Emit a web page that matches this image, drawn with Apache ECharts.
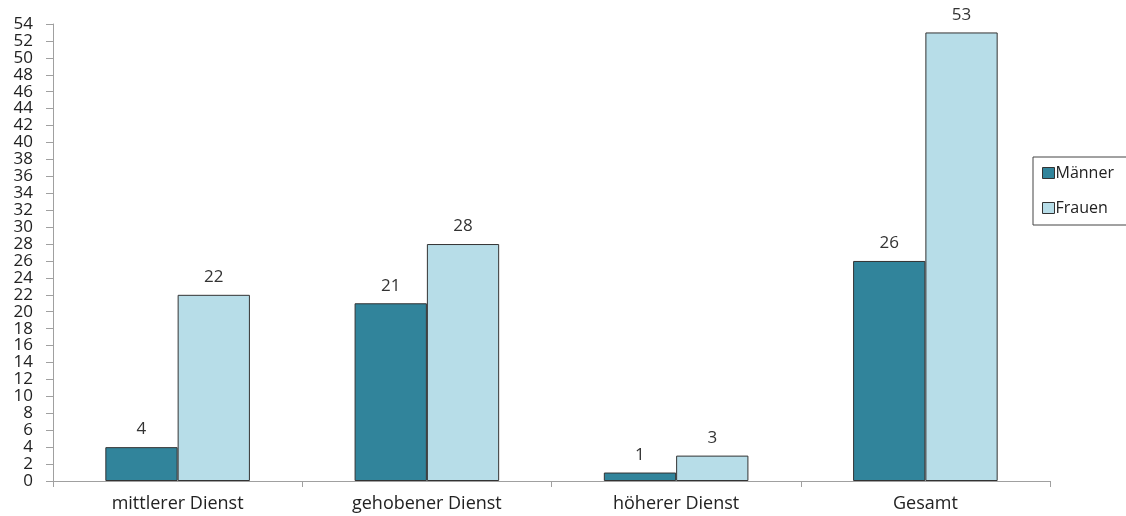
<!DOCTYPE html>
<html>
<head>
<meta charset="utf-8">
<script src="https://cdn.jsdelivr.net/npm/echarts@6/dist/echarts.min.js"></script>
<style>
  html, body { margin: 0; padding: 0; background: #fff; }
  #chart { width: 1126px; height: 516px; }
</style>
</head>
<body>
<div id="chart"></div>
<script>
// Beschäftigte nach Laufbahngruppe
const categories = ['mittlerer Dienst', 'gehobener Dienst', 'höherer Dienst', 'Gesamt'];
const maenner = [4, 21, 1, 26];
const frauen = [22, 28, 3, 53];

const FONT = '"Open Sans", "DejaVu Sans", sans-serif';
const chart = echarts.init(document.getElementById('chart'));

const labelStyle = {
  show: true,
  position: 'top',
  distance: 9,
  color: '#333',
  fontFamily: FONT,
  fontSize: 17
};

chart.setOption({
  animation: false,
  textStyle: { fontFamily: FONT },
  grid: { left: 53, right: 76, top: 24, bottom: 35 },
  legend: {
    orient: 'vertical',
    left: 1033,
    top: 157,
    padding: [8, 30, 9, 9],
    itemGap: 19,
    itemWidth: 12,
    itemHeight: 11,
    icon: 'rect',
    borderColor: '#444',
    borderWidth: 1,
    itemStyle: { borderColor: '#333', borderWidth: 1 },
    textStyle: { fontFamily: FONT, fontSize: 16, color: '#222', padding: [0, 0, 0, -4] },
    data: ['Männer', 'Frauen']
  },
  xAxis: {
    type: 'category',
    data: categories,
    axisLine: { lineStyle: { color: '#a0a0a0', width: 1 } },
    axisTick: { show: true, length: 6, lineStyle: { color: '#a0a0a0' } },
    axisLabel: { color: '#222', fontSize: 18, fontFamily: FONT, margin: 14 }
  },
  yAxis: {
    type: 'value',
    min: 0,
    max: 54,
    interval: 2,
    splitLine: { show: false },
    axisLine: { show: true, lineStyle: { color: '#a0a0a0', width: 1 } },
    axisTick: { show: true, length: 7, lineStyle: { color: '#a0a0a0' } },
    axisLabel: { color: '#222', fontSize: 17, fontFamily: FONT, margin: 20 }
  },
  series: [
    {
      name: 'Männer',
      type: 'bar',
      data: maenner,
      barGap: '0%',
      barCategoryGap: '42%',
      itemStyle: { color: '#31849B', borderColor: '#333', borderWidth: 1 },
      label: labelStyle
    },
    {
      name: 'Frauen',
      type: 'bar',
      data: frauen,
      itemStyle: { color: '#B7DDE8', borderColor: '#333', borderWidth: 1 },
      label: labelStyle
    }
  ]
});
</script>
</body>
</html>
